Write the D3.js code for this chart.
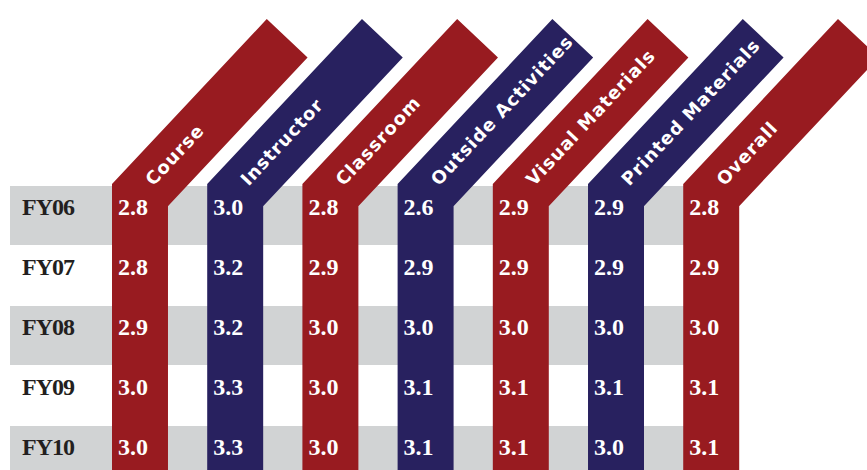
<!DOCTYPE html>
<html>
<head>
<meta charset="utf-8">
<script src="https://cdn.jsdelivr.net/npm/d3@7"></script>
<style>
  body { margin: 0; background: #fff; }
  svg { display: block; }
</style>
</head>
<body>
<div id="chart"></div>
<script>
// categories (columns) and fiscal years (rows)
const categories = ["Course", "Instructor", "Classroom", "Outside Activities", "Visual Materials", "Printed Materials", "Overall"];
const years = ["FY06", "FY07", "FY08", "FY09", "FY10"];

// scores per category, FY06 -> FY10
const course = [2.8, 2.8, 2.9, 3.0, 3.0];
const instructor = [3.0, 3.2, 3.2, 3.3, 3.3];
const classroom = [2.8, 2.9, 3.0, 3.0, 3.0];
const outsideActivities = [2.6, 2.9, 3.0, 3.1, 3.1];
const visualMaterials = [2.9, 2.9, 3.0, 3.1, 3.1];
const printedMaterials = [2.9, 2.9, 3.0, 3.1, 3.0];
const overall = [2.8, 2.9, 3.0, 3.1, 3.1];

const series = [course, instructor, classroom, outsideActivities, visualMaterials, printedMaterials, overall];

const width = 867, height = 470;
const red = "#981b20", navy = "#28215f", gray = "#d1d3d4";

const svg = d3.select("#chart").append("svg")
  .attr("width", width)
  .attr("height", height);

/* Scales */
const x = d3.scaleBand().domain(categories).range([112, 739.2]).paddingInner(0.412).paddingOuter(0);
const y = d3.scaleBand().domain(years).range([186, 486]);

const bendY = 195;         // where the column turns into the slanted header
const angle = 46.8 * Math.PI / 180;
const diagLen = 215;
const dir = [Math.cos(angle), -Math.sin(angle)];
const nrm = [Math.sin(angle), Math.cos(angle)];

// gray stripes on alternate rows
svg.append("g")
  .selectAll("rect")
  .data(years.filter((d, i) => i % 2 === 0))
  .join("rect")
  .attr("x", 10)
  .attr("y", d => y(d))
  .attr("width", x("Overall") + x.bandwidth() / 2 - 10)
  .attr("height", y.bandwidth() - 1)
  .attr("fill", gray);

// bent columns
const cols = svg.append("g")
  .selectAll("g")
  .data(categories)
  .join("g");

cols.append("path")
  .attr("d", d => {
    const cx = x(d) + x.bandwidth() / 2;
    return d3.line()([
      [cx, height + 20],
      [cx, bendY],
      [cx + diagLen * dir[0], bendY + diagLen * dir[1]]
    ]);
  })
  .attr("fill", "none")
  .attr("stroke", (d, i) => i % 2 === 0 ? red : navy)
  .attr("stroke-width", x.bandwidth())
  .attr("stroke-linejoin", "miter")
  .attr("stroke-linecap", "butt");

// slanted header labels
cols.append("text")
  .attr("transform", d => {
    const cx = x(d) + x.bandwidth() / 2;
    const px = cx + 15 * dir[0] + 4 * nrm[0];
    const py = bendY + 15 * dir[1] + 4 * nrm[1];
    return `translate(${px},${py}) rotate(${-46.8})`;
  })
  .attr("fill", "#fff")
  .attr("font-family", "DejaVu Sans, sans-serif")
  .attr("font-weight", "bold")
  .attr("font-size", 18)
  .attr("letter-spacing", 1)
  .text(d => d);

// value labels
cols.selectAll(".val")
  .data((d, i) => series[i].map((v, j) => ({ cat: d, year: years[j], v })))
  .join("text")
  .attr("class", "val")
  .attr("x", d => x(d.cat) + 6)
  .attr("y", d => y(d.year) + 29)
  .attr("fill", "#fff")
  .attr("font-family", "Liberation Serif, serif")
  .attr("font-weight", "bold")
  .attr("font-size", 24)
  .text(d => d3.format(".1f")(d.v));

// year labels
svg.append("g")
  .selectAll("text")
  .data(years)
  .join("text")
  .attr("x", 22)
  .attr("y", d => y(d) + 29)
  .attr("fill", "#231f20")
  .attr("font-family", "Liberation Serif, serif")
  .attr("font-weight", "bold")
  .attr("font-size", 24)
  .attr("letter-spacing", -1)
  .text(d => d);
</script>
</body>
</html>
